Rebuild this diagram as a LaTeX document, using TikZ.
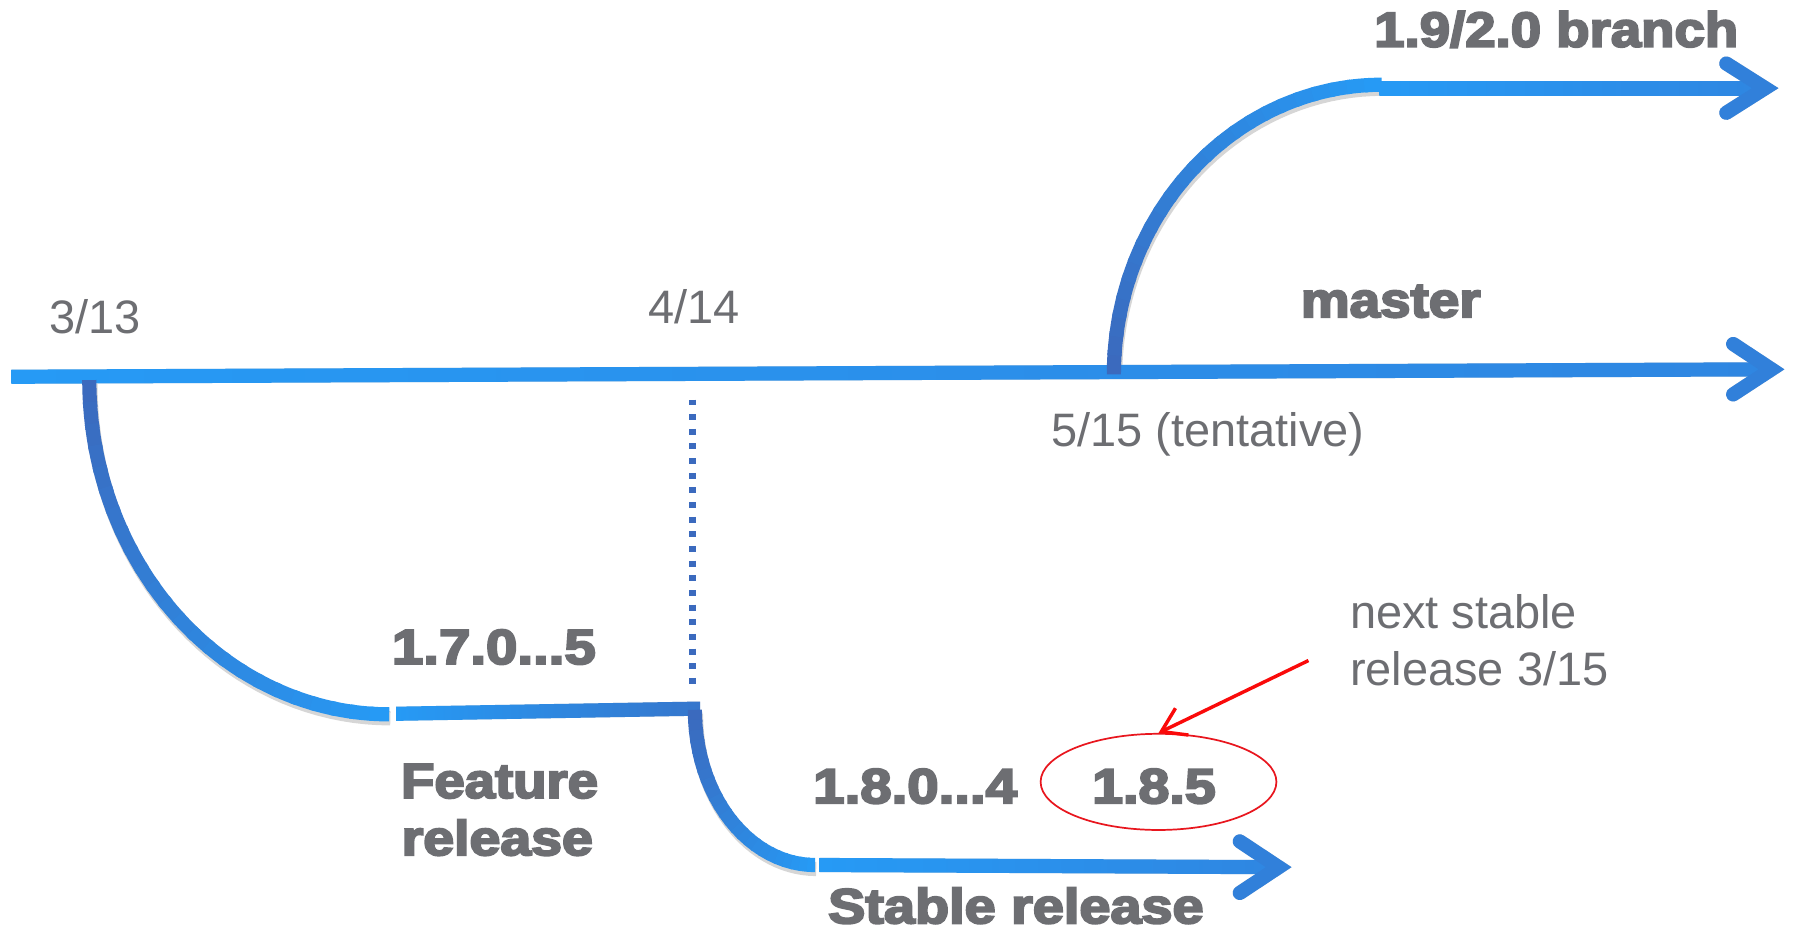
\documentclass[tikz,border=0pt]{standalone}
\usepackage{fontspec}
\setmainfont{Liberation Sans}
\newfontfamily\heavyfont{Liberation Sans Bold}[FakeBold=4]
\usetikzlibrary{arrows.meta,shapes.geometric,calc}
\definecolor{lb}{RGB}{38,154,245}
\definecolor{mb}{RGB}{47,134,225}
\definecolor{db}{RGB}{59,106,190}
\definecolor{tg}{RGB}{109,110,114}
\definecolor{rd}{RGB}{250,10,10}
\definecolor{re}{RGB}{232,22,30}

% gradient elliptic arc: cx cy rx ry a0 a1 colorstart colorend
\newcommand\gradcurve[8]{%
  \foreach \i in {1,...,24}{%
    \pgfmathsetmacro\ta{#5+(#6-#5)*(\i-1)/24}%
    \pgfmathsetmacro\tb{#5+(#6-#5)*min(\i+0.25,24)/24}%
    \pgfmathsetmacro\tlo{min(\ta,\tb)}%
    \pgfmathsetmacro\thi{max(\ta,\tb)}%
    \pgfmathtruncatemacro\pc{100*(\i-1)/23}%
    \draw[line width=6.2pt, color=#8!\pc!#7] plot[domain=\tlo:\thi, samples=5] ({#1+#3*cos(\x)},{#2+#4*sin(\x)});
  }%
}
\newcommand\shaftshade[4]{\shade[left color=#3, right color=#4] ($(#1)+(0,-6.2)$) -- ($(#2)+(0,-6.2)$) -- ($(#2)+(0,6.2)$) -- ($(#1)+(0,6.2)$) -- cycle;}
\newcommand\shaftfill[2]{\fill ($(#1)+(0,-6.2)$) -- ($(#2)+(0,-6.2)$) -- ($(#2)+(0,6.2)$) -- ($(#1)+(0,6.2)$) -- cycle;}
\newcommand\bw[2]{\resizebox{#1pt}{\height}{#2}}

\tikzset{
  lbl/.style={anchor=base west, inner sep=0pt, text=tg, font=\fontsize{20.5}{25}\selectfont},
  blbl/.style={anchor=base west, inner sep=0pt, text=tg, font=\fontsize{21.5}{25}\selectfont\heavyfont},
  chev/.style={line width=6.2pt, line cap=round, line join=miter},
  dotline/.style={line width=2.9pt, color=db, dash pattern=on 2.6pt off 3.8pt},
  shline/.style={line width=6.2pt},
}

\begin{document}
\begin{tikzpicture}[x=0.5pt,y=-0.5pt]
\useasboundingbox (0,0) rectangle (1568,814);
\fill[white] (0,0) rectangle (1568,814);

% ---- named points
\coordinate (m0) at (10,329.1);
\coordinate (mv) at (1547.5,322.6);
\coordinate (ma1) at (1514,300.5);
\coordinate (ma2) at (1514,344.5);
\coordinate (f0) at (346,623.5);
\coordinate (f1) at (611.6,619);
\coordinate (s0) at (716,755.6);
\coordinate (sv) at (1117,757.5);
\coordinate (sa1) at (1083,735);
\coordinate (sa2) at (1083,780);
\coordinate (u0) at (1205,77);
\coordinate (uv) at (1542,77);
\coordinate (ua1) at (1508,55.5);
\coordinate (ua2) at (1508,98.5);
\coordinate (d0) at (605,349);
\coordinate (d1) at (605,604);
\coordinate (rs) at (1143,577);

% ---- soft shadows
\begin{scope}[shift={(1,3.5)}, opacity=0.16, black]
  \shaftfill{m0}{mv}
  \shaftfill{f0}{f1}
  \shaftfill{s0}{sv}
  \shaftfill{u0}{uv}
  \draw[shline] plot[domain=90:180, samples=40] ({340+262*cos(\x)},{332+292*sin(\x)});
  \draw[shline] plot[domain=90:180, samples=30] ({712+105*cos(\x)},{620+135.6*sin(\x)});
  \draw[shline] plot[domain=180:270, samples=40] ({1207+234*cos(\x)},{327+253*sin(\x)});
  \draw[chev] (ma1) -- (mv) -- (ma2);
  \draw[chev] (sa1) -- (sv) -- (sa2);
  \draw[chev] (ua1) -- (uv) -- (ua2);
\end{scope}

% ---- master line
\shaftshade{m0}{mv}{lb}{mb}
\draw[chev, color=mb!80!db] (ma1) -- (mv) -- (ma2);

% ---- 3/13 feature branch
\gradcurve{340}{332}{262}{292}{180}{90}{db}{lb}
\shaftshade{f0}{f1}{lb}{db!75!lb}

% ---- 4/14 stable branch
\gradcurve{712}{620}{105}{135.6}{180}{90}{db}{lb}
\shaftshade{s0}{sv}{lb}{mb}
\draw[chev, color=mb!80!db] (sa1) -- (sv) -- (sa2);

% ---- 5/15 branch
\gradcurve{1207}{327}{234}{253}{180}{270}{db}{lb}
\shaftshade{u0}{uv}{lb}{mb}
\draw[chev, color=mb!80!db] (ua1) -- (uv) -- (ua2);

% ---- dotted marker
\draw[dotline] (d0) -- (d1);

% ---- labels
\node[lbl] (t313) at (43,291) {3/13};
\node[lbl] (t414) at (566,283) {4/14};
\node[lbl] (t515) at (918,390) {5/15 (tentative)};
\node[lbl] (ns1) at (1179,548.6) {next stable};
\node[lbl] (ns2) at (1179,598.4) {release 3/15};

\node[blbl] (b19) at (1200,40.8) {\bw{159}{1.9/2.0 branch}};
\node[blbl] (mst) at (1136,277) {\bw{78.5}{master}};
\node[blbl] (v17) at (342,580) {\bw{89}{1.7.0...5}};
\node[blbl] (fr1) at (350,697) {\bw{86}{Feature}};
\node[blbl] (fr2) at (350.5,747) {\bw{83.5}{release}};
\node[blbl] (v18) at (710,701.6) {\bw{89}{1.8.0...4}};
\node[blbl] (v185) at (953.6,701.6) {\bw{54}{1.8.5}};
\node[blbl] (stb) at (723,806.5) {\bw{164}{Stable release}};

% ---- highlight
\node[ellipse, draw=re, line width=0.75pt, minimum width=103pt, minimum height=42pt, inner sep=0pt] (ell) at (1012,683) {};
\draw[rd, line width=1.5pt, -{Straight Barb[length=10pt,width=13pt]}] (rs) -- (ell.north);
\end{tikzpicture}
\end{document}
